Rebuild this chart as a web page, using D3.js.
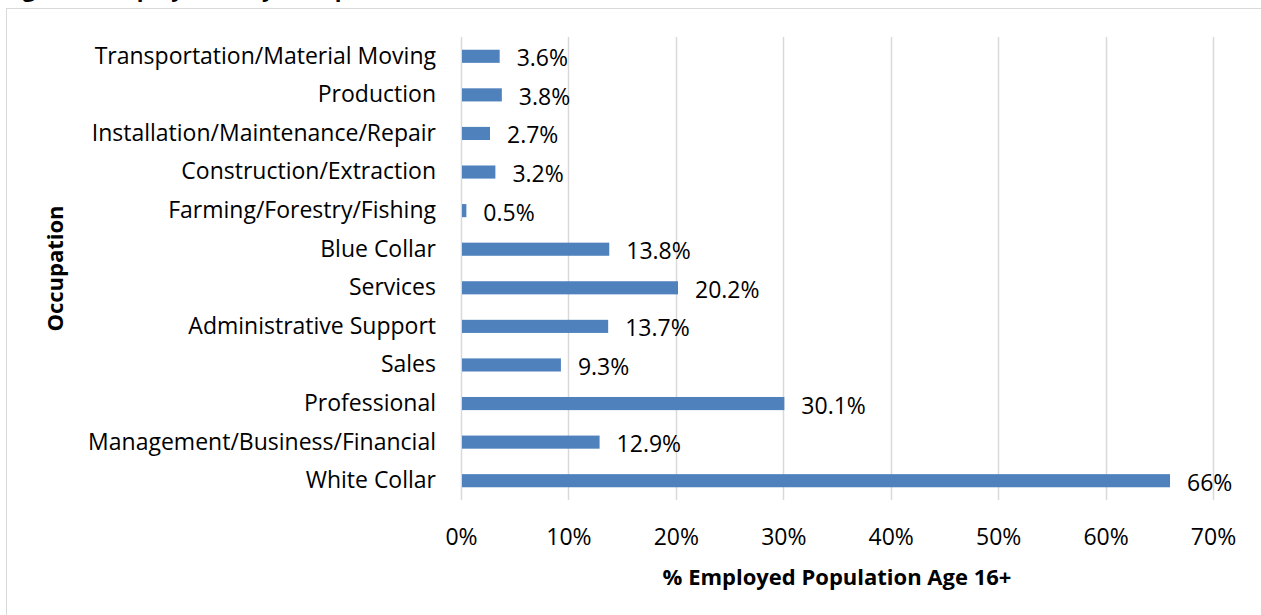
<!doctype html>
<html>
<head>
<meta charset="UTF-8">
<title>Employment by Occupation</title>
<script src="https://d3js.org/d3.v7.min.js"></script>
<style>
  body { margin: 0; background: #fff; }
  text { font-family: "Open Sans", Lato, sans-serif; fill: #000; }
</style>
</head>
<body>
<svg width="1261" height="615" id="chart"></svg>
<script>
// data (top to bottom)
var occupations = ["Transportation/Material Moving", "Production", "Installation/Maintenance/Repair",
  "Construction/Extraction", "Farming/Forestry/Fishing", "Blue Collar", "Services",
  "Administrative Support", "Sales", "Professional", "Management/Business/Financial", "White Collar"];
var shares = [3.6, 3.8, 2.7, 3.2, 0.5, 13.8, 20.2, 13.7, 9.3, 30.1, 12.9, 66];
var labels = ["3.6%", "3.8%", "2.7%", "3.2%", "0.5%", "13.8%", "20.2%", "13.7%", "9.3%", "30.1%", "12.9%", "66%"];
var xTicks = [0, 10, 20, 30, 40, 50, 60, 70];

var fs = 23, fsBold = 22;
var svg = d3.select("#chart");

// title, mostly clipped off the top like the source
svg.append("text").attr("x", 4).attr("y", -3)
  .attr("font-size", fsBold).attr("font-weight", "bold")
  .text("Figure 6: Employment by Occupation for Residents 2016");

// chart frame
svg.append("rect").attr("x", 6.5).attr("y", 8.5).attr("width", 1270).attr("height", 620)
  .attr("fill", "#fff").attr("stroke", "#d9d9d9").attr("stroke-width", 1);

var plotLeft = 461, plotRight = 1213, plotTop = 37, plotBottom = 500;

var x = d3.scaleLinear().domain([0, 70]).range([plotLeft, plotRight]);
var y = d3.scaleBand().domain(occupations).range([plotTop, plotBottom]).paddingInner(0.66).paddingOuter(0.33);

// gridlines
svg.append("g").selectAll("line").data(xTicks).enter().append("line")
  .attr("x1", function(d){ return Math.round(x(d)) + 0.5; })
  .attr("x2", function(d){ return Math.round(x(d)) + 0.5; })
  .attr("y1", plotTop).attr("y2", plotBottom)
  .attr("stroke", "#d9d9d9").attr("stroke-width", 1.5);

// x axis tick labels
var xAxis = d3.axisBottom(x).tickValues(xTicks).tickSize(0).tickPadding(0)
  .tickFormat(function(d){ return d + "%"; });
var gx = svg.append("g").attr("transform", "translate(0," + 529 + ")").call(xAxis);
gx.select(".domain").remove();
gx.selectAll("text").attr("font-size", fs).attr("font-family", "'Open Sans', sans-serif").attr("fill", "#000");

// y axis category labels
var yAxis = d3.axisLeft(y).tickSize(0).tickPadding(0);
var gy = svg.append("g").attr("transform", "translate(" + 436 + ",0)").call(yAxis);
gy.select(".domain").remove();
gy.selectAll("text").attr("font-size", fs).attr("font-family", "'Open Sans', sans-serif").attr("fill", "#000");

// bars
svg.append("g").selectAll("rect").data(shares).enter().append("rect")
  .attr("x", x(0) + 1)
  .attr("y", function(d, i){ return y(occupations[i]); })
  .attr("width", function(d){ return x(d) - x(0) - 1; })
  .attr("height", y.bandwidth())
  .attr("fill", "#4f81bd");

// value labels
svg.append("g").selectAll("text").data(shares).enter().append("text")
  .attr("x", function(d){ return x(d) + 17; })
  .attr("y", function(d, i){ return y(occupations[i]) + y.bandwidth() / 2 + 10; })
  .attr("font-size", fs)
  .text(function(d, i){ return labels[i]; });

// axis titles
svg.append("text").attr("x", (plotLeft + plotRight) / 2).attr("y", 585)
  .attr("text-anchor", "middle").attr("font-size", fsBold).attr("font-weight", "bold")
  .text("% Employed Population Age 16+");
svg.append("text").attr("transform", "translate(63," + (plotTop + plotBottom) / 2 + ") rotate(-90)")
  .attr("text-anchor", "middle").attr("font-size", fsBold).attr("font-weight", "bold")
  .text("Occupation");
</script>
</body>
</html>
